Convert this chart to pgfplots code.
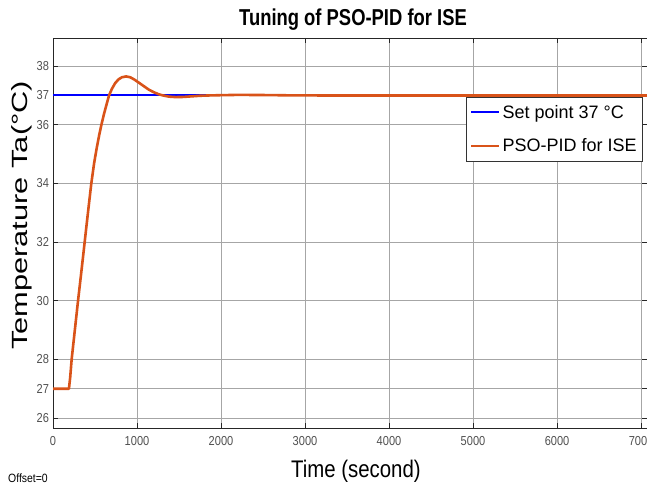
\documentclass[border=0pt]{standalone}
\usepackage{graphicx}
\usepackage{pgfplots}
\pgfplotsset{compat=1.18}
\usepackage{fontspec}
\setmainfont{Liberation Sans}
\definecolor{setblue}{RGB}{0,0,255}
\definecolor{psoorange}{RGB}{217,83,25}
\definecolor{tickgray}{RGB}{80,80,80}
\pgfplotsset{
  legend image code/.code={\draw[#1] (0pt,0pt) -- (28pt,0pt);}
}
\begin{document}
\begin{tikzpicture}
\useasboundingbox (-53pt,-59pt) rectangle (594pt,428pt);
\begin{axis}[
  at={(0,0)}, anchor=south west,
  scale only axis, width=594pt, height=390pt,
  xmin=0, xmax=7071, ymin=25.66, ymax=38.96,
  xtick={0,1000,...,7000},
  ytick={26,27,28,30,32,34,36,37,38},
  scaled x ticks=false,
  /pgf/number format/assume math mode=true,
  /pgf/number format/1000 sep={},
  xticklabel style={font=\fontsize{13}{13}\selectfont, text=tickgray, yshift=-5pt, xscale=0.85},
  yticklabel style={font=\fontsize{13}{13}\selectfont, text=tickgray, xshift=-1pt, xscale=0.85},
  grid=major, major grid style={black!35, line width=0.7pt},
  axis line style={black!85, line width=0.9pt},
  tick style={black!85, line width=0.7pt},
  tick align=inside, major tick length=5pt,
  title={\scalebox{0.8}[1]{\fontsize{23}{23}\selectfont\bfseries Tuning of PSO-PID for ISE}},
  title style={at={(axis description cs:0.505,1.033)}, anchor=center},
  xlabel={\scalebox{0.85}[1]{\fontsize{24}{24}\selectfont Time (second)}},
  xlabel style={at={(axis description cs:0.51,-0.112)}, anchor=center},
  ylabel={\scalebox{1.4}[1]{\fontsize{22}{22}\selectfont Temperature Ta(°C)}},
  ylabel style={at={(axis description cs:-0.052,0.545)}, anchor=center},
  legend style={at={(axis description cs:0.993,0.849)}, anchor=north east,
    font=\fontsize{18}{18}\selectfont, draw=black!80,
    inner xsep=4pt, inner ysep=6pt, row sep=15pt},
  legend cell align=left,
]
\addplot[draw=setblue, line width=2pt] coordinates {(0,37) (7071,37)};
\addlegendentry{Set point 37 °C}
\addplot[draw=psoorange, line width=2.6pt, line join=round] coordinates {
(0,27) (190,27) (205,27.4) (222,28) (260,29) (298,30) (338,31) (377,32)
(416,33) (456,34) (490,34.7) (520,35.2) (550,35.65) (580,36.05) (610,36.4)
(640,36.72) (667,37.0) (700,37.22) (740,37.42) (780,37.55) (820,37.62)
(870,37.65) (920,37.62) (970,37.54) (1020,37.44) (1080,37.32) (1140,37.2)
(1200,37.11) (1260,37.04) (1310,37.0) (1380,36.96) (1460,36.945) (1550,36.95)
(1650,36.97) (1750,36.99) (1850,37.0) (2000,37.01) (2200,37.02) (2500,37.015)
(2800,37.005) (3200,37.0) (7071,37.0)
};
\addlegendentry{PSO-PID for ISE}
\end{axis}
\node[anchor=west, font=\fontsize{12}{12}\selectfont, inner sep=0pt] at (-45pt,-50pt) {\scalebox{0.87}[1]{Offset=0}};
\end{tikzpicture}
\end{document}
